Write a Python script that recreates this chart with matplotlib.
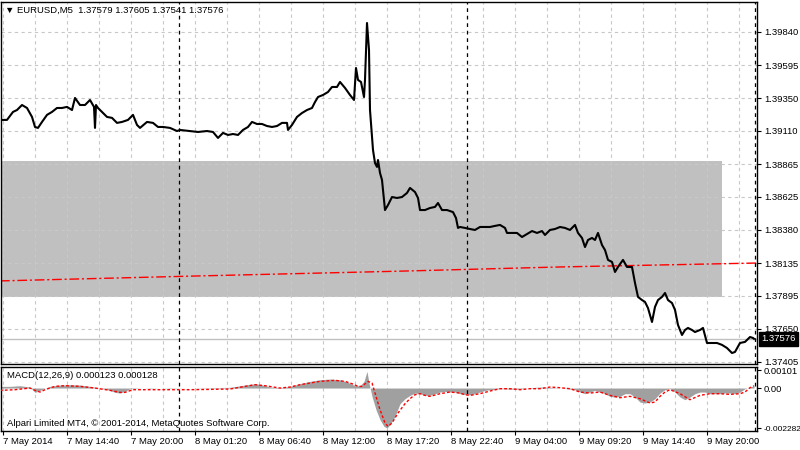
"""
plot.py

EURUSD M5 chart with MACD subwindow, MT4 look.
"""

import numpy as np
import pandas as pd
import matplotlib
matplotlib.use("Agg")
import matplotlib.pyplot as plt
from matplotlib.ticker import FixedLocator, FixedFormatter

plt.rcParams['font.family'] = ['Liberation Sans', 'DejaVu Sans']

symbol = "EURUSD,M5"
ohlc = [1.37579, 1.37605, 1.37541, 1.37576]
start_time = pd.Timestamp("2014-05-07 09:05")
bar_minutes = 5

# close prices (bar index = 5 min bars since start_time)
price_bar = [0, 7, 13, 17, 22, 27, 32, 35, 38, 42,
             47, 52, 57, 62, 67, 72, 75, 80, 85, 90,
             94, 95, 96, 98, 102, 107, 112, 117, 122, 128,
             133, 137, 140, 147, 153, 158, 163, 170, 177, 180,
             190, 198, 207, 213, 218, 223, 228, 233, 238, 243,
             248, 252, 257, 262, 267, 272, 277, 282, 287, 288,
             292, 297, 302, 307, 312, 315, 318, 323, 328, 332,
             337, 340, 345, 350, 354, 356, 358, 361, 364, 365,
             367, 368, 369, 370, 372, 373, 375, 377, 378, 380,
             382, 383, 385, 388, 392, 397, 402, 407, 410, 415,
             418, 420, 425, 430, 435, 438, 442, 447, 453, 456,
             458, 460, 465, 470, 475, 480, 485, 490, 495, 500,
             505, 507, 512, 517, 522, 527, 532, 537, 542, 545,
             550, 555, 560, 565, 570, 575, 578, 582, 585, 588,
             592, 595, 598, 602, 605, 608, 612, 615, 618, 623,
             627, 632, 635, 638, 642, 645, 648, 652, 655, 658,
             662, 665, 668, 672, 675, 678, 682, 685, 688, 692,
             695, 700, 703, 707, 712, 717, 722, 727, 732, 735,
             740, 745, 750, 753, 754]
price = [1.39191, 1.39191, 1.39250, 1.39264, 1.39301, 1.39279, 1.39213, 1.39139, 1.39132, 1.39176,
         1.39228, 1.39250, 1.39279, 1.39279, 1.39287, 1.39264, 1.39353, 1.39301, 1.39301, 1.39338,
         1.39287, 1.39132, 1.39301, 1.39279, 1.39250, 1.39213, 1.39206, 1.39169, 1.39176, 1.39191,
         1.39228, 1.39154, 1.39132, 1.39176, 1.39169, 1.39139, 1.39139, 1.39132, 1.39109, 1.39117,
         1.39109, 1.39102, 1.39109, 1.39102, 1.39058, 1.39095, 1.39080, 1.39087, 1.39080, 1.39117,
         1.39139, 1.39176, 1.39161, 1.39161, 1.39146, 1.39139, 1.39146, 1.39169, 1.39169, 1.39117,
         1.39154, 1.39213, 1.39242, 1.39264, 1.39279, 1.39323, 1.39360, 1.39375, 1.39397, 1.39434,
         1.39434, 1.39471, 1.39427, 1.39375, 1.39338, 1.39574, 1.39486, 1.39471, 1.39360, 1.39486,
         1.39906, 1.39803, 1.39707, 1.39264, 1.39065, 1.38969, 1.38873, 1.38844, 1.38895, 1.38800,
         1.38748, 1.38674, 1.38526, 1.38563, 1.38622, 1.38615, 1.38622, 1.38652, 1.38689, 1.38659,
         1.38615, 1.38526, 1.38526, 1.38541, 1.38549, 1.38578, 1.38526, 1.38526, 1.38511, 1.38467,
         1.38394, 1.38401, 1.38394, 1.38386, 1.38379, 1.38401, 1.38401, 1.38401, 1.38409, 1.38416,
         1.38394, 1.38357, 1.38357, 1.38357, 1.38327, 1.38349, 1.38371, 1.38357, 1.38371, 1.38342,
         1.38379, 1.38386, 1.38401, 1.38394, 1.38379, 1.38416, 1.38357, 1.38320, 1.38253, 1.38305,
         1.38320, 1.38305, 1.38357, 1.38268, 1.38231, 1.38158, 1.38143, 1.38069, 1.38106, 1.38158,
         1.38106, 1.38106, 1.37988, 1.37885, 1.37862, 1.37848, 1.37803, 1.37700, 1.37811, 1.37862,
         1.37885, 1.37914, 1.37862, 1.37840, 1.37789, 1.37678, 1.37604, 1.37641, 1.37656, 1.37641,
         1.37626, 1.37641, 1.37656, 1.37545, 1.37545, 1.37545, 1.37531, 1.37508, 1.37471, 1.37479,
         1.37545, 1.37553, 1.37589, 1.37582, 1.37576]

# moving average (red dash-dot)
ma_bar = [0, 200, 400, 560, 757]
ma = [1.38003, 1.38040, 1.38075, 1.38106, 1.38135]

# grey rectangle object
box_times = ["2014-05-07 06:00", "2014-05-09 21:15"]
box_low, box_high = 1.37888, 1.38887

# MACD(12,26,9) main (histogram) and signal
hist_bar = [0, 10, 20, 30, 35, 40, 45, 50, 60, 70,
            80, 90, 100, 110, 115, 120, 125, 130, 150, 170,
            190, 210, 230, 245, 255, 262, 270, 280, 290, 300,
            310, 320, 330, 340, 348, 355, 360, 364, 367, 369,
            372, 376, 380, 384, 387, 390, 395, 400, 405, 410,
            415, 420, 425, 430, 435, 440, 445, 450, 455, 460,
            465, 470, 475, 480, 485, 490, 500, 510, 520, 530,
            540, 550, 560, 565, 575, 580, 585, 590, 595, 600,
            605, 610, 615, 620, 625, 630, 635, 640, 645, 650,
            655, 660, 665, 670, 675, 680, 685, 690, 695, 700,
            705, 710, 715, 720, 725, 730, 735, 740, 745, 750, 754]
hist = [0.000095, 0.000095, 0.000133, 0.000057, -0.000247, -0.000133, 0.0, 0.000095, 0.000171, 0.00019,
        0.000171, 0.000095, 0.0, -0.000133, -0.000247, -0.000285, -0.00019, -0.000038, 0.00002, -0.00002,
        0.0, 0.00002, 0.00004, 0.000171, 0.000247, 0.00019, 0.000057, 0.00002, 0.000095, 0.000247,
        0.00038, 0.000475, 0.000513, 0.000475, 0.000323, 0.000133, 0.000133, 0.00038, 0.00095, 0.000285,
        -0.000475, -0.001235, -0.001805, -0.002185, -0.002282, -0.00209, -0.001615, -0.000893, -0.000608, -0.000418,
        -0.000285, -0.000323, -0.000418, -0.000418, -0.000323, -0.000228, -0.00019, -0.000228, -0.000228, -0.000323,
        -0.00038, -0.00038, -0.000323, -0.000228, -0.000133, -0.000095, -0.000038, -0.000057, -0.000057, 0.00002,
        0.000057, 0.000038, 0.0, -0.00002, -0.000095, -0.000228, -0.000323, -0.000228, -0.000133, -0.000228,
        -0.000323, -0.000475, -0.000513, -0.000475, -0.000323, -0.000323, -0.000513, -0.000798, -0.000855, -0.000798,
        -0.000608, -0.000285, -0.000095, -0.000038, -0.000228, -0.000513, -0.000665, -0.000513, -0.000323, -0.000228,
        -0.000228, -0.000323, -0.000323, -0.000323, -0.000285, -0.000285, -0.000323, -0.000228, -0.000038, 0.000057, 0.000123]

sig_bar = [0, 15, 30, 35, 40, 45, 55, 65, 80, 95,
           110, 120, 125, 133, 150, 190, 230, 245, 255, 265,
           280, 290, 300, 310, 320, 335, 345, 352, 358, 362,
           368, 372, 375, 380, 385, 388, 392, 398, 400, 405,
           410, 415, 420, 425, 430, 440, 450, 460, 465, 470,
           480, 490, 500, 510, 520, 530, 540, 550, 560, 570,
           580, 590, 600, 610, 620, 630, 640, 650, 655, 660,
           665, 670, 680, 690, 700, 710, 720, 730, 740, 745, 750, 754]
sig = [-0.000133, -0.000095, 0.0, -0.000133, -0.000228, -0.000095, 0.000095, 0.000133, 0.000095, 0.0,
       -0.000133, -0.000247, -0.000247, -0.000095, -0.000095, -0.000095, -0.000057, 0.000095, 0.00019, 0.000133,
       0.0, 0.000057, 0.00019, 0.000285, 0.00038, 0.000437, 0.00038, 0.000247, 0.000095, 0.000095,
       0.00038, 0.000285, -0.000285, -0.001235, -0.001995, -0.002185, -0.001995, -0.001425, -0.001273, -0.000893,
       -0.000608, -0.00038, -0.000323, -0.000418, -0.000475, -0.000323, -0.000228, -0.000285, -0.00038, -0.000418,
       -0.000323, -0.000171, -0.000038, -0.000038, -0.000095, -0.000038, -0.000038, 0.000057, 0.00002, -0.000038,
       -0.000228, -0.000285, -0.000228, -0.000418, -0.000551, -0.000475, -0.000608, -0.000855, -0.000798, -0.000475,
       -0.000228, -0.000095, -0.000323, -0.000665, -0.000418, -0.000323, -0.000323, -0.000361, -0.000323, -0.000228, 0.00002, 0.000128]

price_ticks = [1.39840, 1.39595, 1.39350, 1.39110, 1.38865, 1.38625,
               1.38380, 1.38135, 1.37895, 1.37650, 1.37405]
macd_ticks = [0.00101, 0.0, -0.002282]
macd_tick_labels = ["0.00101", "0.00", "-0.002282"]

x_labels = ["7 May 2014", "7 May 14:40", "7 May 20:00", "8 May 01:20",
            "8 May 06:40", "8 May 12:00", "8 May 17:20", "8 May 22:40",
            "9 May 04:00", "9 May 09:20", "9 May 14:40", "9 May 20:00"]
first_label_time = "2014-05-07 09:20"
label_step = "320min"
grid_step = "160min"
day_breaks = ["2014-05-08 00:00", "2014-05-09 00:00"]


def to_bar(t):
    return (pd.Timestamp(t) - start_time) / pd.Timedelta(minutes=bar_minutes)


GRID = '#c8c8c8'
DASH = (0, (3, 3))
FS = 6.8

fig = plt.figure(figsize=(8, 4.5), dpi=100)
ax = fig.add_axes([1 / 800, 86 / 450, 756 / 800, 362 / 450])
ax2 = fig.add_axes([1 / 800, 19 / 450, 756 / 800, 64 / 450])

xmin, xmax = 1, 757
label_pos = [to_bar(t) for t in pd.date_range(first_label_time, periods=len(x_labels), freq=label_step)]
grid_pos = [to_bar(t) for t in pd.date_range(first_label_time, periods=2 * len(x_labels) + 1, freq=grid_step)]
sep_pos = [to_bar(t) for t in day_breaks]
shift_pos = price_bar[-1] + 1

# ---- main window
b0, b1 = to_bar(box_times[0]), to_bar(box_times[1])
ax.fill_between([b0, b1], box_low, box_high, color='#c0c0c0', lw=0, zorder=0)
for p in price_ticks:
    ax.axhline(p, color=GRID, ls=DASH, lw=0.8, zorder=1)
for g in grid_pos:
    ax.axvline(g, color=GRID, ls=DASH, lw=0.8, zorder=1)
ax.axhline(price[-1], color='#c0c0c0', lw=1, zorder=1.5)
ax.plot(ma_bar, ma, color='#ff0000', lw=1, ls=(0, (7, 2, 1.5, 2)), zorder=2)
ax.plot(price_bar, price, color='black', lw=1.5, zorder=3)
for s in sep_pos:
    ax.axvline(s, color='black', ls=DASH, lw=0.9, zorder=4)
ax.axvline(shift_pos, color='black', ls=DASH, lw=0.9, zorder=4)

ax.set_xlim(xmin, xmax)
ax.set_ylim(1.37390, 1.40061)
ax.yaxis.tick_right()
ax.set_yticks(price_ticks)
ax.set_yticklabels([f'{p:.5f}' for p in price_ticks])
ax.tick_params(axis='y', direction='out', length=3, width=0.8, pad=2, labelsize=FS)
ax.tick_params(axis='x', length=0, labelbottom=False)
for sp in ax.spines.values():
    sp.set_linewidth(1)

ax.annotate(f'{price[-1]:.5f}', xy=(1, price[-1]), xycoords=('axes fraction', 'data'),
            xytext=(3, 0), textcoords='offset points', ha='left', va='center',
            color='white', fontsize=FS,
            bbox=dict(boxstyle='square,pad=0.25', fc='black', ec='black'))

fig.text(5 / 800, 1 - 10 / 450, '\u25bc ' + symbol + '  ' + ' '.join(f'{v:.5f}' for v in ohlc),
         fontsize=FS, va='center', ha='left')

# ---- MACD window
for g in grid_pos:
    ax2.axvline(g, color=GRID, ls=DASH, lw=0.8, zorder=1)
ax2.fill_between(hist_bar, hist, 0, color='#a0a0a0', lw=0, zorder=2)
ax2.plot(sig_bar, sig, color='#ff0000', lw=1, ls=(0, (2, 1.5)), zorder=3)
for s in sep_pos:
    ax2.axvline(s, color='black', ls=DASH, lw=0.9, zorder=4)
ax2.axvline(shift_pos, color='black', ls=DASH, lw=0.9, zorder=4)

ax2.set_xlim(xmin, xmax)
ax2.set_ylim(-0.00245, 0.0012)
ax2.yaxis.tick_right()
ax2.yaxis.set_major_locator(FixedLocator(macd_ticks))
ax2.yaxis.set_major_formatter(FixedFormatter(macd_tick_labels))
ax2.xaxis.set_major_locator(FixedLocator(label_pos))
ax2.xaxis.set_major_formatter(FixedFormatter(x_labels))
ax2.tick_params(axis='both', direction='out', length=3, width=0.8, pad=1.5, labelsize=FS)
for lab in ax2.get_xticklabels():
    lab.set_ha('left')
ax2.get_yticklabels()[-1].set_fontsize(6)
for sp in ax2.spines.values():
    sp.set_linewidth(1)

fig.text(7 / 800, 1 - 376 / 450,
         f'MACD(12,26,9) {hist[-1]:.6f} {sig[-1]:.6f}', fontsize=FS, va='center', ha='left')
fig.text(7 / 800, 1 - 424 / 450,
         'Alpari Limited MT4, \u00a9 2001-2014, MetaQuotes Software Corp.',
         fontsize=FS, va='center', ha='left')

fig.savefig('out.png', dpi=100, facecolor='white')
